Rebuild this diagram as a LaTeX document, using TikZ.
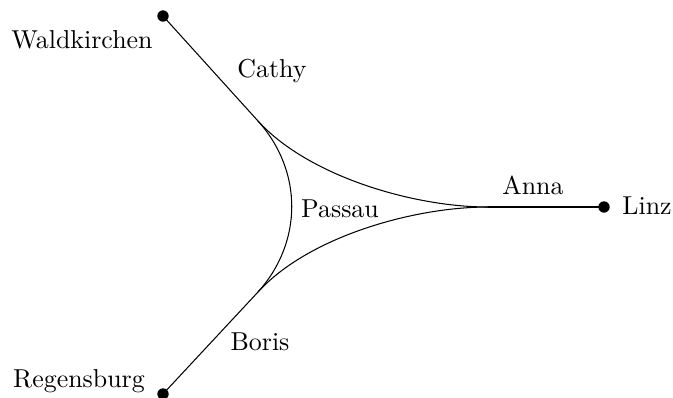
\documentclass[tikz,border=0pt]{standalone}
\begin{document}
\begin{tikzpicture}[x=0.3861pt,y=-0.3861pt,
  dot/.style={circle,fill=black,inner sep=0pt,minimum size=4.4pt},
  lbl/.style={anchor=base,inner sep=0pt}]
\useasboundingbox (0,0) rectangle (673,397);
% cities
\node[dot] (wald) at (163,16) {};
\node[dot] (linz) at (604,207) {};
\node[dot] (rege) at (163,394) {};
% junctions
\coordinate (cw) at (258,121);
\coordinate (cl) at (488,207);
\coordinate (cr) at (258,292);
\draw (wald.center) -- (cw);
\draw (linz.center) -- (cl);
\draw (rege.center) -- (cr);
\draw (cw) .. controls (308,176) and (413,207) .. (cl);
\draw (cr) .. controls (308,237) and (413,207) .. (cl);
\draw (cw) .. controls (303,171) and (303,242) .. (cr);
% labels
\node[lbl] (tw) at (82,48) {Waldkirchen};
\node[lbl] (tc) at (272,77) {Cathy};
\node[lbl] (ta) at (533,194) {Anna};
\node[lbl] (tl) at (647,214) {Linz};
\node[lbl] (tp) at (340,217) {Passau};
\node[lbl] (tb) at (260,350) {Boris};
\node[lbl] (tr) at (79,387) {Regensburg};
\end{tikzpicture}
\end{document}
